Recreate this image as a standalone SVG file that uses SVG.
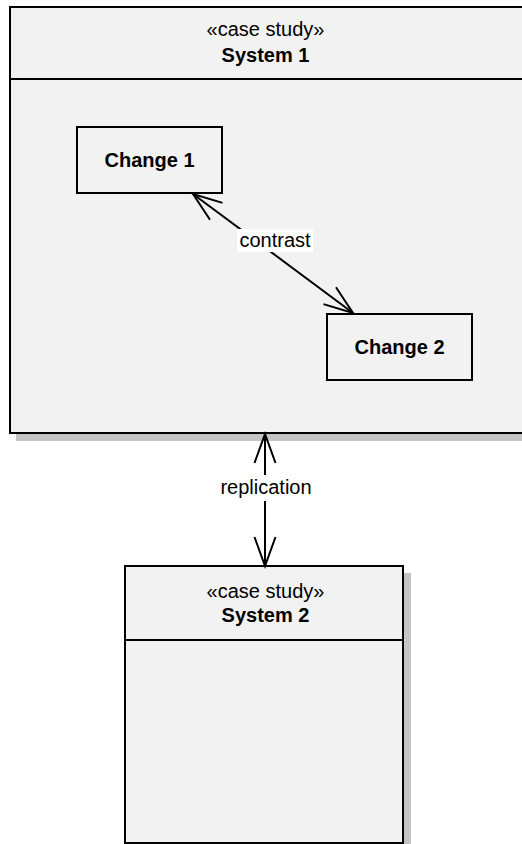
<svg xmlns="http://www.w3.org/2000/svg" width="522" height="844" viewBox="0 0 522 844">
<style>
.box{fill:#f2f2f2;stroke:#000;stroke-width:2}
.shadow{fill:#c4c4c4}
.div{stroke:#000;stroke-width:2}
text{font-family:"Liberation Sans",Arial,sans-serif;font-size:20px;fill:#000;text-anchor:middle}
.b{font-weight:bold}
.conn{stroke:#000;stroke-width:2;fill:none;marker-start:url(#arr);marker-end:url(#arr)}
.lbl{fill:#fff}
</style>
<defs>
<marker id="arr" markerUnits="userSpaceOnUse" viewBox="-32 -14 36 28" refX="0" refY="0" markerWidth="36" markerHeight="28" orient="auto-start-reverse" overflow="visible">
<path d="M-29,-10.5 L0,0 L-29,10.5" fill="none" stroke="#000" stroke-width="2"/>
</marker>
</defs>
<rect width="522" height="844" fill="#fff"/>
<g id="system1">
<rect class="shadow" x="16" y="15" width="520" height="426"/>
<rect class="box" x="10" y="7" width="520" height="426"/>
<line class="div" x1="10" y1="79" x2="530" y2="79"/>
<text x="265.5" y="36">«case study»</text>
<text class="b" x="265.5" y="61.5">System 1</text>
</g>
<g id="change1">
<rect class="box" x="77" y="127" width="145" height="66"/>
<text class="b" x="149.5" y="167">Change 1</text>
</g>
<g id="change2">
<rect class="box" x="327" y="314" width="145" height="66"/>
<text class="b" x="399.5" y="354">Change 2</text>
</g>
<g id="system2">
<rect class="shadow" x="132" y="573" width="279" height="290"/>
<rect class="box" x="125" y="566" width="278" height="277"/>
<line class="div" x1="125" y1="640" x2="403" y2="640"/>
<text x="265.5" y="598">«case study»</text>
<text class="b" x="265.5" y="621.5">System 2</text>
</g>
<g id="connectors">
<line class="conn" x1="193" y1="194" x2="353" y2="313"/>
<rect class="lbl" x="237" y="229" width="76" height="23"/>
<text x="275" y="247">contrast</text>
<line class="conn" x1="265" y1="434" x2="265" y2="566"/>
<rect class="lbl" x="218" y="475" width="96" height="26"/>
<text x="266" y="494">replication</text>
</g>
</svg>
